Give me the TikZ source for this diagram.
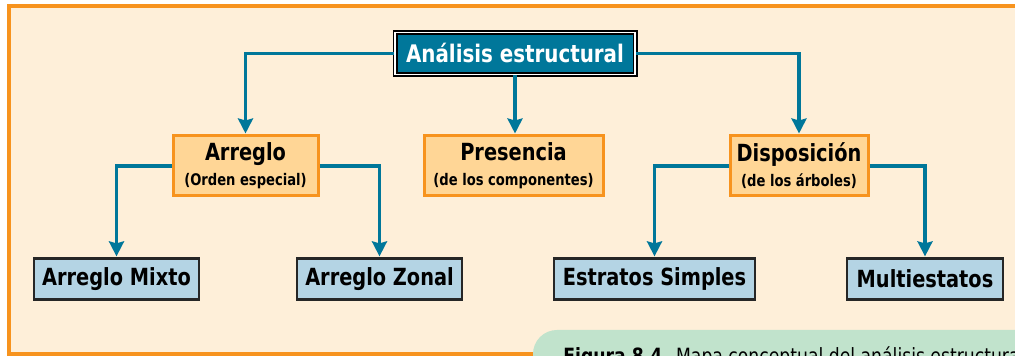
\documentclass[tikz,border=0pt]{standalone}
\usepackage{fontspec}
\setmainfont{DejaVu Sans}[FakeStretch=0.82]
\usetikzlibrary{arrows.meta}
\definecolor{crema}{RGB}{254,239,217}
\definecolor{naranja}{RGB}{247,147,30}
\definecolor{durazno}{RGB}{255,214,150}
\definecolor{petroleo}{RGB}{0,119,154}
\definecolor{celeste}{RGB}{180,212,228}
\definecolor{menta}{RGB}{193,227,204}

\begin{document}
\begin{tikzpicture}[x=0.5pt,y=-0.5pt,
	titulo/.style={draw=black,line width=0.8pt,double=white,double distance=0.9pt,fill=petroleo,
		text=white,font=\bfseries\fontsize{12.1}{14}\selectfont,minimum width=120pt,minimum height=21pt,inner sep=0pt},
	grupo/.style={draw=naranja,line width=1.5pt,fill=durazno,align=center,font=\bfseries,
		minimum height=30pt,inner sep=0pt},
	hoja/.style={draw=black!85,line width=1.1pt,fill=celeste,font=\bfseries\fontsize{11.8}{14}\selectfont,
		minimum height=20.5pt,inner sep=0pt},
	flecha/.style={draw=petroleo,line width=1.6pt,-{Stealth[length=7.5pt,width=7.5pt,inset=1pt]},shorten >=0.5pt}]
	\clip (0,0) rectangle (1015,356);
	%\draw[help lines] (0,0) grid[step=50] (1015,356);
	\fill[white] (0,0) rectangle (1015,356);
	\draw[naranja,line width=1.6pt,fill=crema] (9,6) rectangle (1040,354);
	% caja del pie de figura
	\fill[menta,rounded corners=12pt] (533,330) rectangle (1100,420);
	\node[anchor=base west,inner sep=0pt,font=\fontsize{10.5}{12}\selectfont] (pie) at (563,364)
		{\textbf{Figura 8.4.} Mapa conceptual del análisis estructural};
	% nodos
	\node[titulo] (analisis) at (515,53.5) {Análisis estructural};
	\node[grupo,minimum width=72.5pt] (arreglo) at (245.5,166)
		{{\fontsize{11.8}{11}\selectfont Arreglo}\\[0.5pt]{\fontsize{8}{8}\selectfont (Orden especial)}};
	\node[grupo,minimum width=89.5pt] (presencia) at (513.5,166)
		{{\fontsize{11.8}{11}\selectfont Presencia}\\[0.5pt]{\fontsize{8}{8}\selectfont (de los componentes)}};
	\node[grupo,minimum width=69pt] (disposicion) at (799,166)
		{{\fontsize{11.8}{11}\selectfont Disposición}\\[0.5pt]{\fontsize{8}{8}\selectfont (de los árboles)}};
	\node[hoja,minimum width=82.5pt] (mixto) at (116.5,279) {Arreglo Mixto};
	\node[hoja,minimum width=82.5pt] (zonal) at (379.5,279) {Arreglo Zonal};
	\node[hoja,minimum width=100.5pt] (estratos) at (654.5,279) {Estratos Simples};
	\node[hoja,minimum width=78pt] (multi) at (925,279) {Multiestatos};
	% conectores
	\draw[flecha] (analisis.west) -| (arreglo.north);
	\draw[flecha] (analisis.south) -- (analisis.south |- presencia.north);
	\draw[flecha] (analisis.east) -| (disposicion.north);
	\draw[flecha] (arreglo.west) -| (mixto.north);
	\draw[flecha] (arreglo.east) -| (zonal.north);
	\draw[flecha] (disposicion.west) -| (estratos.north);
	\draw[flecha] (disposicion.east) -| (multi.north);
\end{tikzpicture}
\end{document}
